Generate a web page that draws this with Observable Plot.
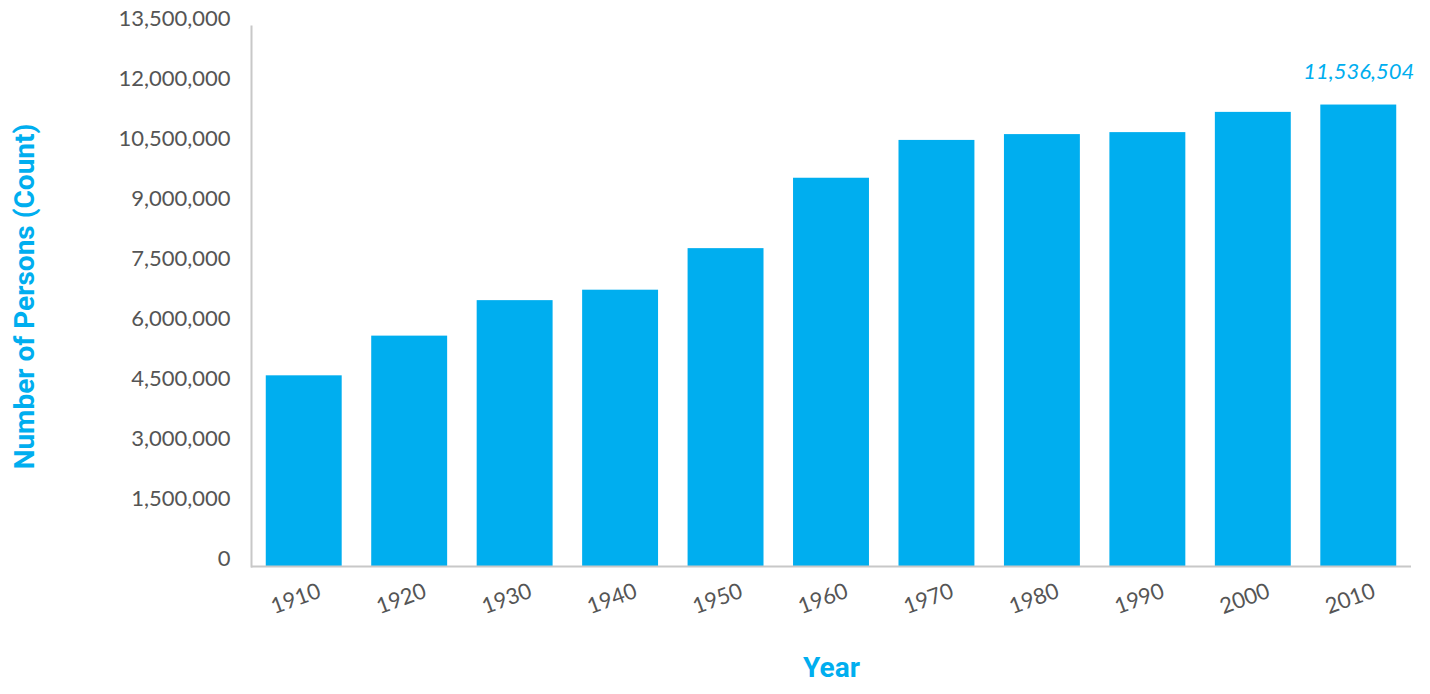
<!DOCTYPE html>
<html><head><meta charset="utf-8">
<script src="https://cdn.jsdelivr.net/npm/d3@7"></script>
<script src="https://cdn.jsdelivr.net/npm/@observablehq/plot@0.6"></script>
<style>html,body{margin:0;padding:0;background:#fff;}</style>
</head><body><div id="chart"></div>
<script>
const years = ["1910","1920","1930","1940","1950","1960","1970","1980","1990","2000","2010"];
const persons = [4767121, 5759394, 6646697, 6907612, 7946627, 9706397, 10652017, 10797630, 10847115, 11353140, 11536504];
const yTicks = [0, 1500000, 3000000, 4500000, 6000000, 7500000, 9000000, 10500000, 12000000, 13500000];
const yTitle = "Number of Persons (Count)";
const xTitle = "Year";
const highlightYear = "2010";

const data = years.map((year, i) => ({year, persons: persons[i]}));
const blue = "#00AEEF";
const gray = "#555555";
const fmt = d3.format(",");

const chart = Plot.plot({
  width: 1430, height: 694,
  marginLeft: 251, marginRight: 19, marginTop: 26, marginBottom: 128,
  style: {fontFamily: "Lato, sans-serif", fontSize: "21px", color: gray, background: "#fff", overflow: "visible"},
  x: {domain: years, paddingInner: 0.28, paddingOuter: 0.14, round: false, axis: null},
  y: {domain: [0, 13500000], axis: null},
  marks: [
    Plot.barY(data, {x: "year", y: "persons", fill: blue}),
    Plot.frame({anchor: "left", stroke: "#c8c8c8", strokeWidth: 2}),
    Plot.ruleY([0], {stroke: "#c8c8c8", strokeWidth: 2}),
    Plot.axisY({ticks: yTicks, tickSize: 0, tickPadding: 21, dy: -8, tickFormat: fmt, fill: gray, fontSize: 22, label: null}),
    Plot.text(years, {x: d => d, frameAnchor: "bottom", rotate: -20, dy: 39, dx: -6, fill: gray, fontSize: 22}),
    Plot.text(data.filter(d => d.year === highlightYear), {x: "year", y: "persons", text: d => fmt(d.persons), dy: -33, fill: blue, fontStyle: "italic", fontSize: 22}),
    Plot.text([yTitle], {frameAnchor: "left", textAnchor: "middle", rotate: -90, dx: -226, fontWeight: 700, fontSize: 28, fill: blue, fontFamily: "Roboto"}),
    Plot.text([xTitle], {frameAnchor: "bottom", dy: 110, fontWeight: 700, fontSize: 28, fill: blue, fontFamily: "Roboto"})
  ]
});
document.getElementById("chart").appendChild(chart);
</script>
</body></html>
